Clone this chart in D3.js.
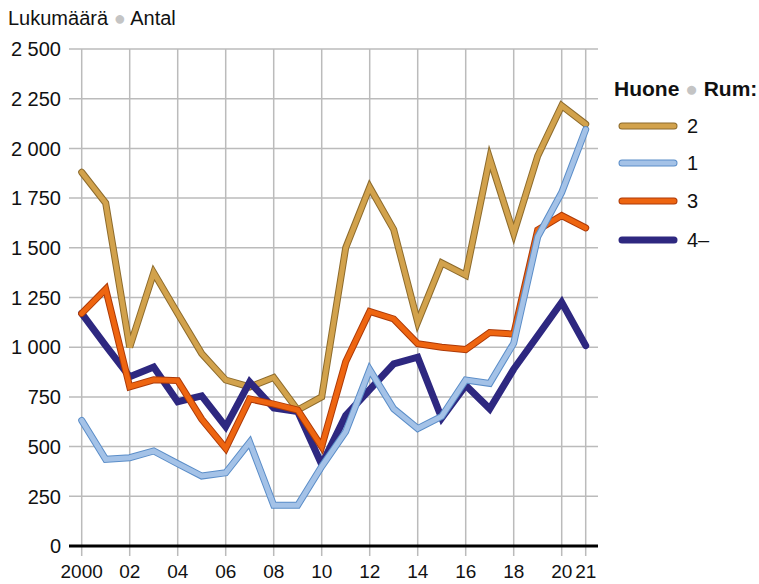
<!DOCTYPE html>
<html lang="fi">
<head>
<meta charset="UTF-8">
<title>Lukumäärä</title>
<script src="https://cdn.jsdelivr.net/npm/d3@7"></script>
<style>
  * { margin: 0; padding: 0; box-sizing: border-box; }
  body { background: #fff; }
  svg text { font-family: "Liberation Sans", Arial, sans-serif; fill: #111; }
</style>
</head>
<body>
<svg width="759" height="584"></svg>
<script>
// data
var years = d3.range(2000, 2022);
var room2 = [1880, 1725, 1000, 1375, 1170, 968, 835, 800, 848, 684, 750, 1500, 1805, 1592, 1126, 1424, 1362, 1950, 1572, 1962, 2215, 2122];
var room1 = [632, 436, 444, 478, 414, 352, 368, 522, 205, 205, 400, 575, 887, 690, 591, 652, 835, 818, 1020, 1555, 1778, 2095];
var room3 = [1170, 1292, 801, 836, 832, 638, 491, 740, 714, 684, 500, 927, 1180, 1142, 1018, 1000, 988, 1074, 1066, 1590, 1662, 1600];
var room4 = [1170, 1008, 851, 900, 726, 755, 600, 825, 694, 676, 410, 656, 786, 916, 950, 643, 808, 690, 890, 1058, 1226, 1008];
var yTicks = [0, 250, 500, 750, 1000, 1250, 1500, 1750, 2000, 2250, 2500];
var xTicks = [2000, 2002, 2004, 2006, 2008, 2010, 2012, 2014, 2016, 2018, 2020, 2021];

var series = [
  { name: "2", values: room2, color: "#d2a24c", edge: "#8d6b2c" },
  { name: "1", values: room1, color: "#a4c2e7", edge: "#5a8dc8" },
  { name: "3", values: room3, color: "#ee6510", edge: "#ad3a08" },
  { name: "4\u2013", values: room4, color: "#2e2880", edge: "#2e2880" }
];
// draw order (bottom to top)
var drawOrder = [0, 3, 2, 1];

var svg = d3.select("svg");

var x = d3.scaleLinear().domain([2000, 2021]).range([81.7, 585.7]);
var y = d3.scaleLinear().domain([0, 2500]).range([546, 49]);

// grid
var grid = svg.append("g");
grid.selectAll("line.h").data(yTicks.slice(1)).enter().append("line")
  .attr("x1", 69).attr("x2", 598)
  .attr("y1", function (d) { return y(d); })
  .attr("y2", function (d) { return y(d); })
  .attr("stroke", "#bbbbbb").attr("stroke-width", 1.5);
grid.selectAll("line.v").data(xTicks).enter().append("line")
  .attr("x1", function (d) { return x(d); })
  .attr("x2", function (d) { return x(d); })
  .attr("y1", 49).attr("y2", 556)
  .attr("stroke", "#bbbbbb").attr("stroke-width", 1.5);

// y labels
svg.append("g").selectAll("text").data(yTicks).enter().append("text")
  .attr("x", 61)
  .attr("y", function (d) { return y(d); })
  .attr("dy", "0.36em")
  .attr("text-anchor", "end")
  .style("font-size", "20px")
  .text(function (d) { return d3.format(",")(d).replace(",", " "); });

// x labels
svg.append("g").selectAll("text").data(xTicks).enter().append("text")
  .attr("x", function (d) { return x(d); })
  .attr("y", 578)
  .attr("text-anchor", "middle")
  .style("font-size", "19px")
  .text(function (d) { return d == 2000 ? "2000" : String(d).slice(2); });

// lines
var line = d3.line()
  .x(function (d, i) { return x(years[i]); })
  .y(function (d) { return y(d); })
  .curve(d3.curveLinear);

drawOrder.forEach(function (k) {
  var s = series[k];
  var g = svg.append("g");
  g.append("path").attr("d", line(s.values))
    .attr("fill", "none").attr("stroke", s.edge)
    .attr("stroke-width", 7).attr("stroke-linejoin", "miter").attr("stroke-linecap", "round");
  g.append("path").attr("d", line(s.values))
    .attr("fill", "none").attr("stroke", s.color)
    .attr("stroke-width", 5).attr("stroke-linejoin", "miter").attr("stroke-linecap", "round");
});

// zero axis
svg.append("line")
  .attr("x1", 69).attr("x2", 598)
  .attr("y1", y(0)).attr("y2", y(0))
  .attr("stroke", "#000").attr("stroke-width", 3);

// title
var title = svg.append("text").attr("x", 8).attr("y", 25).style("font-size", "20px");
title.append("tspan").text("Lukumäärä ");
title.append("tspan").style("fill", "#c4c4c4").text("\u25CF");
title.append("tspan").text(" Antal");

// legend
var lt = svg.append("text").attr("x", 614).attr("y", 96)
  .style("font-size", "21px").style("font-weight", "bold");
lt.append("tspan").text("Huone ");
lt.append("tspan").style("fill", "#c4c4c4").style("font-weight", "normal").text("\u25CF");
lt.append("tspan").text(" Rum:");

var legendY = [126, 163, 201, 240];
series.forEach(function (s, i) {
  var g = svg.append("g").attr("transform", "translate(0," + legendY[i] + ")");
  g.append("line").attr("x1", 622).attr("x2", 674)
    .attr("stroke", s.edge).attr("stroke-width", 7).attr("stroke-linecap", "round");
  g.append("line").attr("x1", 622).attr("x2", 674)
    .attr("stroke", s.color).attr("stroke-width", 5).attr("stroke-linecap", "round");
  g.append("text").attr("x", 687).attr("dy", "0.36em")
    .style("font-size", "20px").text(s.name);
});
</script>
</body>
</html>
